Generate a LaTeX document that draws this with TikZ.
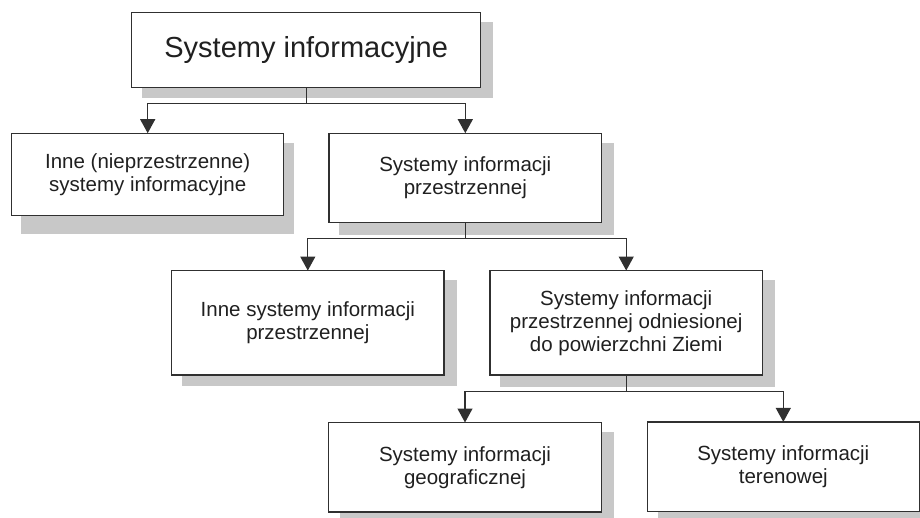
\documentclass[tikz,border=0pt]{standalone}
\usepackage{fontspec}
\setmainfont{Liberation Sans}
\usetikzlibrary{arrows.meta,backgrounds}
\definecolor{linec}{HTML}{303030}
\definecolor{shadowc}{HTML}{C8C8C8}
\definecolor{textc}{HTML}{202020}
\tikzset{
  boxnode/.style={draw=linec, line width=1.2pt, fill=white, rectangle, align=center,
    text=textc, inner sep=0pt, font=\fontsize{20.5}{23}\selectfont},
  conn/.style={draw=linec, line width=1.2pt},
  arr/.style={conn, -{Triangle[width=15pt,length=14pt]}, shorten >=-0.5pt},
  shad/.style={fill=shadowc}
}
\begin{document}
\begin{tikzpicture}[x=1pt,y=-1pt]
\useasboundingbox (0,0) rectangle (920,518);
\node[boxnode, minimum width=349pt, minimum height=75.4pt, font=\fontsize{29}{32}\selectfont] (b1) at (306.2,50) {Systemy informacyjne};
\node[boxnode, minimum width=272pt, minimum height=82.4pt] (b2) at (147.7,174.5) {Inne (nieprzestrzenne)\\systemy informacyjne};
\node[boxnode, minimum width=272.7pt, minimum height=89.4pt] (b3) at (465.3,178) {Systemy informacji\\przestrzennej};
\node[boxnode, minimum width=272.3pt, minimum height=104.3pt] (b4) at (307.8,322.8) {Inne systemy informacji\\przestrzennej};
\node[boxnode, minimum width=272.3pt, minimum height=104.3pt] (b5) at (626.2,322.8) {Systemy informacji\\przestrzennej odniesionej\\do powierzchni Ziemi};
\node[boxnode, minimum width=273.4pt, minimum height=89.4pt] (b6) at (465,467.3) {Systemy informacji\\geograficznej};
\node[boxnode, minimum width=272pt, minimum height=89.4pt] (b7) at (783.3,466.7) {Systemy informacji\\terenowej};

\begin{scope}[on background layer]
  \fill[shad] ([shift={(11,10)}]b1.north west) rectangle ([shift={(12,10)}]b1.south east);
  \fill[shad] ([shift={(10,10)}]b2.north west) rectangle ([shift={(10,17.5)}]b2.south east);
  \fill[shad] ([shift={(11,10)}]b3.north west) rectangle ([shift={(11.5,11.5)}]b3.south east);
  \fill[shad] ([shift={(11,10)}]b4.north west) rectangle ([shift={(12,10)}]b4.south east);
  \fill[shad] ([shift={(11,10)}]b5.north west) rectangle ([shift={(12,11)}]b5.south east);
  \fill[shad] ([shift={(12,10)}]b6.north west) rectangle ([shift={(11.5,10)}]b6.south east);
  \fill[shad] ([shift={(11,10)}]b7.north west) rectangle ([shift={(11,10)}]b7.south east);
\end{scope}

\coordinate (j1) at ([shift={(0,15.6)}]b1.south);
\coordinate (j3) at ([shift={(0,15.6)}]b3.south);
\coordinate (j5) at ([shift={(0,15.6)}]b5.south);
\draw[conn] (b1.south) -- (j1);
\draw[arr] (j1) -| (b2.north);
\draw[arr] (j1) -| (b3.north);
\draw[conn] (b3.south) -- (j3);
\draw[arr] (j3) -| (b4.north);
\draw[arr] (j3) -| (b5.north);
\draw[conn] (b5.south) -- (j5);
\draw[arr] (j5) -| (b6.north);
\draw[arr] (j5) -| (b7.north);
\end{tikzpicture}
\end{document}
